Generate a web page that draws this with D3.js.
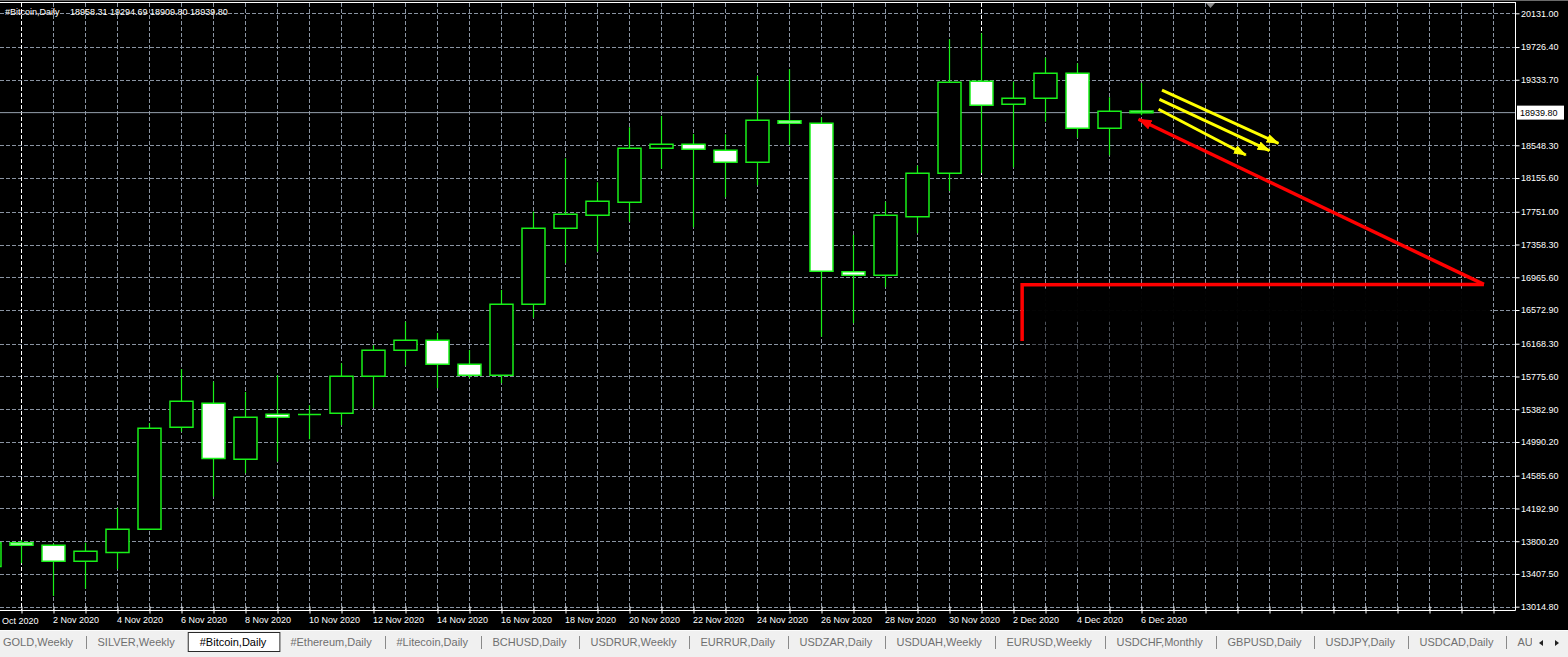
<!DOCTYPE html>
<html><head><meta charset="utf-8">
<script src="https://cdn.jsdelivr.net/npm/d3@7"></script>
<style>html,body{margin:0;padding:0;background:#000;overflow:hidden}</style>
</head><body>
<svg id="c" width="1568" height="657" xmlns="http://www.w3.org/2000/svg"></svg>
<script>
// ---------------- DATA ----------------
const symbolTitle = "#Bitcoin,Daily";
const headerValues = ["18958.31", "19294.69", "18909.80", "18939.80"];
const dates = ["2020-10-31","2020-11-01","2020-11-02","2020-11-03","2020-11-04","2020-11-05","2020-11-06",
  "2020-11-07","2020-11-08","2020-11-09","2020-11-10","2020-11-11","2020-11-12","2020-11-13","2020-11-14",
  "2020-11-15","2020-11-16","2020-11-17","2020-11-18","2020-11-19","2020-11-20","2020-11-21","2020-11-22",
  "2020-11-23","2020-11-24","2020-11-25","2020-11-26","2020-11-27","2020-11-28","2020-11-29","2020-11-30",
  "2020-12-01","2020-12-02","2020-12-03","2020-12-04","2020-12-05","2020-12-06"];
const opens  = [13496,13783,13752,13560,13664,13944,15167,15455,14783,15323,15320,15335,15779,16090,16210,
  15922,15791,16642,17553,17709,17865,18512,18560,18488,18344,18843,18812,17033,16990,17692,18213,
  19316,19040,19112,19412,18752,18958.31];
const highs  = [13900,13816,13770,13783,14200,15215,15863,15714,15590,15791,15431,15934,16150,16433,16298,
  16094,16813,17752,18392,18105,18764,18900,18684,18680,19379,19460,18884,17473,17872,18304,19819,
  19891,19311,19599,19531,19124,19294.69];
const lows   = [13420,13536,13144,13232,13465,13940,15114,14335,14616,14755,15023,15191,15402,15906,15635,
  15755,15695,16481,17134,17273,17632,18268,17565,17925,18069,18552,16253,16414,16846,17493,18000,
  18213,18284,18831,18639,18428,18909.80];
const closes = [13783,13751,13560,13680,13944,15155,15479,14791,15287,15287,15320,15779,16090,16210,15922,
  15791,16642,17553,17721,17877,18512,18560,18500,18344,18848,18812,17038,16990,17709,18213,19304,
  19028,19112,19412,18752,18956,18939.80];
const priceTicks = [20131.00,19726.40,19333.70,18548.30,18155.60,17751.00,17358.30,16965.60,16572.90,
  16168.30,15775.60,15382.90,14990.20,14585.60,14192.90,13800.20,13407.50,13014.80];
const lastPrice = 18939.80;
const periodSeparators = ["2020-11-01","2020-12-01"];
const tabs = ["GOLD,Weekly","SILVER,Weekly","#Bitcoin,Daily","#Ethereum,Daily","#Litecoin,Daily","BCHUSD,Daily",
  "USDRUR,Weekly","EURRUR,Daily","USDZAR,Daily","USDUAH,Weekly","EURUSD,Weekly","USDCHF,Monthly",
  "GBPUSD,Daily","USDJPY,Daily","USDCAD,Daily","AUDUSD,Daily"];
const activeTab = "#Bitcoin,Daily";
// hand-drawn objects, anchored as (day offset from 1 Nov 2020, price)
const yellowArrows = [
  [[35.64,19211],[39.28,18572]],
  [[35.56,19100],[39.00,18484]],
  [[35.53,18980],[38.26,18432]]];
const redArrow = [[45.70,16880],[34.91,18860]];
const redCorner = [[31.27,16202],[31.27,16876],[45.70,16880]];
const erasedArea = [[31.36,16829],[45.90,16829],[45.90,16337],[45.58,16157],[45.65,14059],[45.27,13519],
  [31.99,13483],[31.77,15257],[31.52,16217]];
const erasedTop = [[31.36,16829],[45.90,16829],[45.90,16433],[31.36,16433]];

// ---------------- SETUP ----------------
const W = 1568, H = 657;
const plotR = 1515, plotT = 3, plotB = 610;
const svg = d3.select("#c");
const parse = d3.utcParse("%Y-%m-%d");
const origin = parse("2020-11-01");
const off = d => d3.utcDay.count(origin, d);

const x = d3.scaleLinear().domain([0, 46]).range([21.5, 1493.5]);
const y = d3.scaleLinear().domain([13014.8, 20131]).range([606.7, 13.3]);

const data = dates.map((d, i) => ({date: parse(d), o: opens[i], h: highs[i], l: lows[i], c: closes[i]}));

svg.append("rect").attr("width", W).attr("height", H).attr("fill", "#000");

const defs = svg.append("defs");
defs.append("clipPath").attr("id", "plot").append("rect")
  .attr("x", 0).attr("y", plotT).attr("width", plotR).attr("height", plotB - plotT);
defs.append("clipPath").attr("id", "tabclip").append("rect")
  .attr("x", 0).attr("y", 630).attr("width", 1532).attr("height", 27);
function mk(id, color, len, wid) {
  defs.append("marker").attr("id", id).attr("markerUnits", "userSpaceOnUse")
    .attr("viewBox", `0 0 ${len} ${wid}`).attr("refX", len - 1).attr("refY", wid / 2)
    .attr("markerWidth", len).attr("markerHeight", wid).attr("orient", "auto")
    .append("path").attr("d", `M0,0L${len},${wid / 2}L0,${wid}Z`).attr("fill", color);
}
mk("ya", "#ffff00", 13, 9);
mk("ra", "#ff0000", 14, 10);

const plot = svg.append("g").attr("clip-path", "url(#plot)");

// grid
const gridColor = "#8a94a2";
const dayTicks = d3.range(-1, 47);
const sepOffsets = periodSeparators.map(s => off(parse(s)));
plot.append("g").selectAll("line").data(priceTicks).join("line")
  .attr("x1", 0).attr("x2", plotR)
  .attr("y1", d => Math.round(y(d)) + 0.5).attr("y2", d => Math.round(y(d)) + 0.5)
  .attr("stroke", gridColor).attr("stroke-width", 1).attr("stroke-dasharray", "4,2");
plot.append("g").selectAll("line").data(dayTicks.filter(d => !sepOffsets.includes(d))).join("line")
  .attr("x1", d => x(d)).attr("x2", d => x(d)).attr("y1", plotT).attr("y2", plotB)
  .attr("stroke", gridColor).attr("stroke-width", 1).attr("stroke-dasharray", "4,2");
plot.append("g").selectAll("line").data(sepOffsets).join("line")
  .attr("x1", d => x(d)).attr("x2", d => x(d)).attr("y1", plotT).attr("y2", plotB)
  .attr("stroke", "#ffffff").attr("stroke-width", 1).attr("stroke-dasharray", "4,2");

// erased (painted over) area
const pt = p => [x(p[0]), y(p[1])];
plot.append("path").attr("d", d3.line()(erasedArea.map(pt)) + "Z").attr("fill", "#000").attr("opacity", 0.45);
plot.append("path").attr("d", d3.line()(erasedTop.map(pt)) + "Z").attr("fill", "#000").attr("opacity", 0.95);

// last price line
plot.append("line").attr("x1", 0).attr("x2", plotR)
  .attr("y1", y(lastPrice)).attr("y2", y(lastPrice)).attr("stroke", "#95a0ad").attr("stroke-width", 1);

// candles
const lime = "#19f019";
const hw = 11.5;
const cg = plot.append("g");
cg.selectAll("line").data(data).join("line")
  .attr("x1", d => x(off(d.date))).attr("x2", d => x(off(d.date)))
  .attr("y1", d => y(d.h)).attr("y2", d => y(d.l))
  .attr("stroke", lime).attr("stroke-width", 1.2);
cg.selectAll("path").data(data).join("path")
  .attr("d", d => {
    const cx = x(off(d.date)), t = y(Math.max(d.o, d.c)), b = y(Math.min(d.o, d.c));
    return `M${cx - hw},${t}H${cx + hw}V${b}H${cx - hw}Z`;
  })
  .attr("fill", d => d.c >= d.o ? "#000" : "#fff")
  .attr("stroke", lime).attr("stroke-width", 1.5);

// annotations
const ag = plot.append("g");
yellowArrows.forEach(a => {
  ag.append("line").attr("x1", pt(a[0])[0]).attr("y1", pt(a[0])[1])
    .attr("x2", pt(a[1])[0]).attr("y2", pt(a[1])[1])
    .attr("stroke", "#ffff00").attr("stroke-width", 3).attr("marker-end", "url(#ya)");
});
ag.append("path").attr("d", d3.line()(redCorner.map(pt))).attr("fill", "none")
  .attr("stroke", "#ff0000").attr("stroke-width", 3.5);
ag.append("line").attr("x1", pt(redArrow[0])[0]).attr("y1", pt(redArrow[0])[1])
  .attr("x2", pt(redArrow[1])[0]).attr("y2", pt(redArrow[1])[1])
  .attr("stroke", "#ff0000").attr("stroke-width", 3.5).attr("marker-end", "url(#ra)");

// frame lines
svg.append("line").attr("x1", 0).attr("x2", W).attr("y1", 0.5).attr("y2", 0.5).attr("stroke", "#6a6a6a");
svg.append("line").attr("x1", 0).attr("x2", plotR).attr("y1", 2.5).attr("y2", 2.5).attr("stroke", "#fff");
svg.append("path").attr("d", "M1206,3L1215,3L1210.5,8Z").attr("fill", "#8a8a8a");

// right axis
const font = "'Liberation Sans', Arial, sans-serif";
const ya = svg.append("g").attr("transform", `translate(${plotR + 0.5},0)`)
  .call(d3.axisRight(y).tickValues(priceTicks).tickFormat(d3.format(".2f")).tickSize(4).tickSizeOuter(0));
ya.select(".domain").remove();
ya.selectAll(".tick line").attr("stroke", "#fff");
ya.selectAll(".tick text").attr("fill", "#fff").attr("font-family", font).attr("font-size", "9px").attr("x", 5.5);
svg.append("line").attr("x1", plotR + 0.5).attr("x2", plotR + 0.5).attr("y1", 2).attr("y2", plotB + 0.5)
  .attr("stroke", "#fff");
// last price label
const ly = y(lastPrice);
svg.append("rect").attr("x", plotR + 2).attr("y", ly - 7).attr("width", 47).attr("height", 14).attr("fill", "#fff");
svg.append("text").attr("x", plotR + 5).attr("y", ly + 3.3).attr("font-family", font).attr("font-size", "9px")
  .attr("fill", "#000").text(d3.format(".2f")(lastPrice));

// bottom axis
svg.append("line").attr("x1", 0).attr("x2", plotR + 0.5).attr("y1", plotB + 0.5).attr("y2", plotB + 0.5).attr("stroke", "#fff");
const labelSet = new Set(data.filter((d, i) => i % 2 === 0).map(d => off(d.date)));
const fmt = d3.utcFormat("%-d %b %Y");
const xa = svg.append("g").attr("transform", `translate(0,${plotB + 0.5})`)
  .call(d3.axisBottom(x).tickValues(dayTicks.filter(d => x(d) > 0 && x(d) < plotR))
    .tickFormat(d => labelSet.has(d) ? fmt(d3.utcDay.offset(origin, d)) : "").tickSize(3).tickSizeOuter(0));
xa.select(".domain").remove();
xa.selectAll(".tick line").attr("stroke", "#fff").attr("y1", -4);
xa.selectAll(".tick text").attr("fill", "#fff").attr("font-family", font).attr("font-size", "9px")
  .attr("text-anchor", "start").attr("dx", "-1").attr("y", 6);
// first label (31 Oct 2020) sits mostly off the left edge: only its visible part is drawn
svg.append("text").attr("x", 2).attr("y", 623.5).attr("font-family", font)
  .attr("font-size", "9px").attr("fill", "#fff").text(d3.utcFormat("%b %Y")(data[0].date));

// header
svg.append("text").attr("x", 5).attr("y", 15).attr("font-family", font).attr("font-size", "9px")
  .attr("fill", "#fff").text(symbolTitle);
svg.append("text").attr("x", 70).attr("y", 15).attr("font-family", font).attr("font-size", "9px")
  .attr("fill", "#fff").text(headerValues.join(" "));

// tab bar
svg.append("rect").attr("x", 0).attr("y", 630).attr("width", W).attr("height", 27).attr("fill", "#f0f0f0");
svg.append("line").attr("x1", 0).attr("x2", W).attr("y1", 630.5).attr("y2", 630.5).attr("stroke", "#fbfbfb");
const tg = svg.append("g").attr("clip-path", "url(#tabclip)");
let cx = 3;
tabs.forEach((t, i) => {
  const isA = t === activeTab;
  let box = null;
  if (isA) {
    box = tg.append("rect").attr("y", 632.5).attr("height", 19).attr("fill", "#fff")
      .attr("stroke", "#2a2a2a").attr("stroke-width", 1);
  }
  const tx = isA ? cx + 12 : cx;
  const te = tg.append("text").attr("x", tx).attr("y", 645.5).attr("font-family", font).attr("font-size", "11px")
    .attr("fill", isA ? "#000" : "#6f6f6f").text(t);
  const w = te.node().getComputedTextLength();
  if (isA) {
    box.attr("x", cx + 0.5).attr("width", w + 25);
    cx = cx + w + 25 + 11;
  } else {
    const next = tabs[i + 1];
    if (next === activeTab) { cx = tx + w + 13; }
    else {
      const sx = Math.round(tx + w + 13) + 0.5;
      tg.append("line").attr("x1", sx).attr("x2", sx).attr("y1", 636).attr("y2", 649).attr("stroke", "#8a8a8a");
      cx = sx + 11;
    }
  }
});
svg.append("path").attr("d", "M1543,640L1543,646L1539,643Z").attr("fill", "#222");
svg.append("path").attr("d", "M1555,640L1555,646L1559,643Z").attr("fill", "#222");
</script>
</body></html>
